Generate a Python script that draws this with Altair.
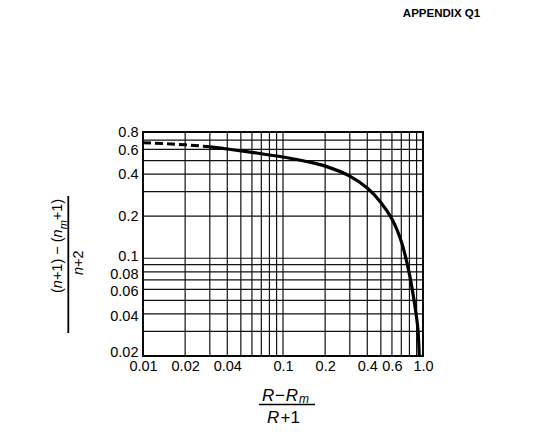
import altair as alt
import pandas as pd

# ---------------- data ----------------
DASH_X = [0.01, 0.02, 0.03]
DASH_Y = [0.67, 0.648, 0.627]
SOLID_X = [0.03, 0.04, 0.06, 0.1, 0.15, 0.2, 0.3, 0.4, 0.5, 0.6,
           0.7, 0.8, 0.88, 0.92, 0.94]
SOLID_Y = [0.627, 0.605, 0.572, 0.53, 0.49, 0.456, 0.387, 0.318, 0.251, 0.191,
           0.132, 0.077, 0.044, 0.031, 0.02]

X_GRID = [0.01, 0.02, 0.03, 0.04, 0.05, 0.06, 0.07, 0.08, 0.09,
          0.1, 0.2, 0.3, 0.4, 0.5, 0.6, 0.7, 0.8, 0.9, 1.0]
Y_GRID = [0.02, 0.03, 0.04, 0.05, 0.06, 0.07, 0.08, 0.09,
          0.1, 0.2, 0.3, 0.4, 0.5, 0.6, 0.7, 0.8]
X_TICKS = [0.01, 0.02, 0.04, 0.1, 0.2, 0.4, 0.6, 1.0]
Y_TICKS = [0.02, 0.04, 0.06, 0.08, 0.1, 0.2, 0.4, 0.6, 0.8]

TITLE = "APPENDIX Q1"

# ---------------- layout ----------------
L, T, W, H = 143, 132, 280, 224
PW, PH = 540, 445
FONT = "Liberation Sans"

xscale = alt.Scale(type="log", domain=[0.01, 1.0], nice=False)
yscale = alt.Scale(type="log", domain=[0.02, 0.8], nice=False)

xaxis = alt.Axis(values=X_TICKS, grid=False, ticks=False, domain=False,
                 format=".2~f", labelExpr="datum.value >= 1 ? '1.0' : datum.label",
                 labelFont=FONT, labelFontSize=14.5, labelColor="black",
                 labelPadding=3, title=None, labelFlush=False, labelOverlap=False)
yaxis = alt.Axis(values=Y_TICKS, grid=False, ticks=False, domain=False,
                 format=".2~f", labelFont=FONT, labelFontSize=14.5, labelColor="black",
                 labelPadding=5, title=None, labelFlush=False, labelOverlap=False,
                 labelOffset={"condition": [
                     {"test": "datum.value < 0.03", "value": -4},
                     {"test": "datum.value > 0.03 && datum.value < 0.09", "value": 2.5},
                     {"test": "datum.value > 0.09 && datum.value < 0.15", "value": -1.5},
                     {"test": "datum.value > 0.5 && datum.value < 0.7", "value": 1}],
                     "value": 0})

grid_color = "#111111"

xgrid = alt.Chart(pd.DataFrame({"x": X_GRID})).mark_rule(
    color=grid_color, strokeWidth=1.2).encode(
    x=alt.X("x:Q", scale=xscale, axis=xaxis))
ygrid = alt.Chart(pd.DataFrame({"y": Y_GRID})).mark_rule(
    color=grid_color, strokeWidth=1.2).encode(
    y=alt.Y("y:Q", scale=yscale, axis=yaxis))

dashed = alt.Chart(pd.DataFrame({"x": DASH_X, "y": DASH_Y})).mark_line(
    color="black", strokeWidth=3, strokeDash=[8, 4], interpolate="monotone",
    clip=True).encode(
    x=alt.X("x:Q", scale=xscale, axis=xaxis),
    y=alt.Y("y:Q", scale=yscale, axis=yaxis))
solid = alt.Chart(pd.DataFrame({"x": SOLID_X, "y": SOLID_Y})).mark_line(
    color="black", strokeWidth=3.2, interpolate="catmull-rom", clip=True).encode(
    x=alt.X("x:Q", scale=xscale, axis=xaxis),
    y=alt.Y("y:Q", scale=yscale, axis=yaxis))

# ---------------- text helpers (page coordinates -> plot coordinates) ----
WID = {"(": 333, ")": 333, "n": 556, "+": 584, "1": 556, "2": 556, " ": 278,
       "\u2212": 584, "m": 833, "R": 722}


def width(s, size):
    return sum(WID.get(c, 556) for c in s) * size / 1000.0


def txt(s, px, py, size, style="normal", weight="normal", angle=0,
        align="left", baseline="alphabetic"):
    return alt.Chart(pd.DataFrame({"t": [s]})).mark_text(
        font=FONT, fontSize=size, fontStyle=style, fontWeight=weight,
        angle=angle, align=align, baseline=baseline, color="black").encode(
        x=alt.value(px - L), y=alt.value(py - T), text="t:N")


def hbar(x1, x2, py, w=1.6):
    return alt.Chart(pd.DataFrame({"a": [0]})).mark_rule(
        color="black", strokeWidth=w).encode(
        x=alt.value(x1 - L), x2=alt.value(x2 - L),
        y=alt.value(py - T), y2=alt.value(py - T))


def vbar(px, y1, y2, w=1.8):
    return alt.Chart(pd.DataFrame({"a": [0]})).mark_rule(
        color="black", strokeWidth=w).encode(
        x=alt.value(px - L), x2=alt.value(px - L),
        y=alt.value(y1 - T), y2=alt.value(y2 - T))


texts = [txt(TITLE, 441.5, 17, 11.5, weight="bold", align="center")]

# x-axis title:  (R - R_m) / (R + 1)
xs = 17
cx = 262
for s, st, sz, base in [("R", "italic", xs, 400.5), ("\u2212", "normal", xs, 400.5),
                        ("R", "italic", xs, 400.5), ("m", "italic", 12, 402.5)]:
    texts.append(txt(s, cx, base, sz, style=st))
    cx += width(s, sz) + 0.8
texts.append(hbar(259, 315, 404.5))
texts.append(txt("R", 267, 422.5, xs, style="italic"))
texts.append(txt("+1", 280.5, 422.5, xs))

# y-axis title: ((n+1) - (n_m+1)) / (n+2), rotated
ys = 14.5
cy = 293
for s, st, sz, base in [("(", "normal", ys, 61.5), ("n", "italic", ys, 61.5),
                        ("+1) \u2212 (", "normal", ys, 61.5), ("n", "italic", ys, 61.5),
                        ("m", "italic", 11, 67), ("+1)", "normal", ys, 61.5)]:
    texts.append(txt(s, base, cy, sz, style=st, angle=270))
    cy -= width(s, sz)
texts.append(vbar(68.3, 196, 333))
cy = 275
for s, st in [("n", "italic"), ("+2", "normal")]:
    texts.append(txt(s, 82.5, cy, 14.5, style=st, angle=270))
    cy -= width(s, 14.5)

chart = alt.layer(xgrid, ygrid, dashed, solid, *texts).properties(
    width=W, height=H,
    padding={"left": L, "top": T, "right": PW - L - W, "bottom": PH - T - H},
    autosize=alt.AutoSizeParams(type="none"),
    background="white",
).configure_view(stroke="black", strokeWidth=2)

chart.save("out.html", embed_options={"renderer": "svg", "actions": False})
